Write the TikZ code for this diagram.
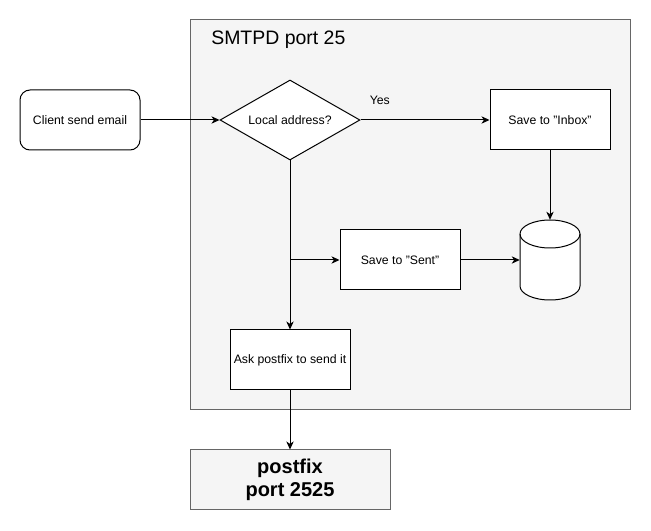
\documentclass[tikz,border=0pt]{standalone}
\usepackage{fontspec}
\setmainfont{Liberation Sans}
\usetikzlibrary{arrows.meta,shapes.geometric}
\definecolor{panelfill}{HTML}{F5F5F5}
\definecolor{panelline}{HTML}{666666}
\tikzset{
  px/.style={x=0.75pt,y=-0.75pt},
  panel/.style={draw=panelline,fill=panelfill,line width=0.75pt,inner sep=0pt},
  stepbox/.style={draw=black,fill=white,line width=0.75pt,minimum width=90pt,minimum height=45pt,inner sep=0pt,font=\fontsize{9.2pt}{11pt}\selectfont,align=center},
  roundbox/.style={stepbox,rounded corners=7.5pt},
  decide/.style={diamond,shape aspect=1.75,draw=black,fill=white,line width=0.75pt,minimum width=105pt,minimum height=60pt,inner sep=0pt,font=\fontsize{9.2pt}{11pt}\selectfont},
  flow/.style={draw=black,line width=0.75pt,-{Stealth[length=6pt,width=5.5pt,inset=1.8pt]}},
  lbl/.style={font=\fontsize{9.2pt}{11pt}\selectfont,inner sep=0pt}
}
\begin{document}
\begin{tikzpicture}[px]
\useasboundingbox (0,0) rectangle (651,531);
% container
\node[panel,minimum width=330pt,minimum height=292.5pt] (smtpd) at (410,215) {};
\node[anchor=west,inner sep=0pt,font=\fontsize{14.6pt}{17pt}\selectfont] (title) at (211,40) {SMTPD port 25};
% nodes
\node[roundbox] (client) at (80,120) {Client send email};
\node[decide] (local) at (290,120) {Local address?};
\node[stepbox] (inbox) at (550,120) {Save to "Inbox"};
\node[stepbox] (sent) at (400,260) {Save to "Sent"};
\node[stepbox] (ask) at (290,360) {Ask postfix to send it};
\node[panel,minimum width=150pt,minimum height=45pt,align=center,font=\bfseries\fontsize{15pt}{17pt}\selectfont] (postfix) at (290,480) {postfix\\port 2525};
% cylinder
\node[minimum width=45pt,minimum height=60pt,inner sep=0pt] (db) at (550,260) {};
\draw[line width=0.75pt,fill=white] (520,234) -- (520,286)
  arc[start angle=180,end angle=360,x radius=22.5pt,y radius=10.5pt] -- (580,234)
  arc[start angle=0,end angle=180,x radius=22.5pt,y radius=10.5pt] -- cycle;
\draw[line width=0.75pt] (520,234) arc[start angle=180,end angle=360,x radius=22.5pt,y radius=10.5pt];
% branch point
\coordinate (split) at (290,260);
% connectors
\draw[flow] (client) -- (local.west);
\draw[flow] (local.east) -- node[lbl,pos=0.15,above=11pt] (yes) {Yes} (inbox.west);
\draw[flow] (inbox.south) -- (db.north);
\draw[flow] (local.south) -- (ask.north);
\draw[flow] (split) -- (sent.west);
\draw[flow] (sent.east) -- (db.west);
\draw[flow] (ask.south) -- (postfix.north);
\end{tikzpicture}
\end{document}
